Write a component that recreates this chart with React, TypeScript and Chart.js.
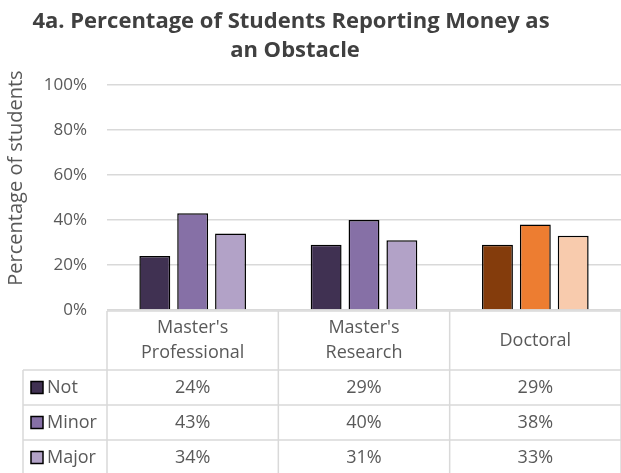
import React, { useEffect, useRef } from "react";
import { Chart, registerables } from "chart.js";

Chart.register(...registerables);

const categories = [["Master's", "Professional"], ["Master's", "Research"], ["Doctoral"]];
const seriesNames = ["Not", "Minor", "Major"];
const notValues = [24, 29, 29];
const minorValues = [43, 40, 38];
const majorValues = [34, 31, 33];
const yTicks = [0, 20, 40, 60, 80, 100];
const titleLines = ["4a. Percentage of Students Reporting Money as", "an Obstacle"];
const yTitle = "Percentage of students";

const purple = ["#403152", "#8670A6", "#B2A2C7"];
const orange = ["#843C0C", "#ED7D31", "#F8CBAD"];
const FONT = "'Open Sans', sans-serif";
const TEXT = "#595959";
const LINE = "#D9D9D9";

export default function App() {
  const ref = useRef<HTMLCanvasElement>(null);
  useEffect(() => {
    document.body.style.margin = "0";
    const series = [notValues, minorValues, majorValues];
    const tablePlugin = {
      id: "tablePlugin",
      afterDraw(chart: any) {
        const ctx = chart.ctx;
        const xs = chart.scales.x;
        const ys = chart.scales.y;
        const left = chart.chartArea.left;
        const colW = (chart.chartArea.right - left) / categories.length;
        const right = left + colW * categories.length + 2;
        const top = ys.getPixelForValue(0) + 1;
        const headerBottom = top + 59;
        const rowH = 35;
        const tableLeft = 23;
        const bottom = headerBottom + rowH * seriesNames.length;
        ctx.save();
        // title
        ctx.fillStyle = "#404040";
        ctx.font = `bold 22px ${FONT}`;
        ctx.textAlign = "center";
        ctx.textBaseline = "middle";
        ctx.fillText(titleLines[0], 291, 22);
        ctx.fillText(titleLines[1], 295, 51);
        // y title
        ctx.save();
        ctx.translate(16, 178);
        ctx.rotate(-Math.PI / 2);
        ctx.fillStyle = TEXT;
        ctx.font = `20px ${FONT}`;
        ctx.fillText(yTitle, 0, 0);
        ctx.restore();
        // grid lines
        ctx.strokeStyle = LINE;
        ctx.lineWidth = 1.5;
        ctx.beginPath();
        ctx.moveTo(left, top); ctx.lineTo(right, top);
        for (let r = 0; r <= seriesNames.length; r++) {
          const y = headerBottom + r * rowH;
          ctx.moveTo(tableLeft, y); ctx.lineTo(right, y);
        }
        ctx.moveTo(tableLeft, headerBottom); ctx.lineTo(tableLeft, bottom);
        for (let c = 0; c <= categories.length; c++) {
          const x = left + c * colW;
          ctx.moveTo(x, top); ctx.lineTo(x, bottom);
        }
        ctx.stroke();
        // header text
        ctx.fillStyle = TEXT;
        ctx.font = `18px ${FONT}`;
        categories.forEach((lines, i) => {
          const cx = xs.getPixelForValue(i);
          const cy = (top + headerBottom) / 2;
          const lh = 25;
          lines.forEach((t, k) => {
            ctx.fillText(t, cx, cy + (k - (lines.length - 1) / 2) * lh);
          });
        });
        // rows
        seriesNames.forEach((name, r) => {
          const cy = headerBottom + r * rowH + rowH / 2;
          ctx.fillStyle = purple[r];
          ctx.fillRect(31, cy - 6, 12, 12);
          ctx.strokeStyle = "#000";
          ctx.lineWidth = 1.5;
          ctx.strokeRect(31, cy - 6, 12, 12);
          ctx.fillStyle = TEXT;
          ctx.textAlign = "left";
          ctx.fillText(name, 47, cy);
          ctx.textAlign = "center";
          series[r].forEach((v, i) => {
            ctx.fillText(v + "%", xs.getPixelForValue(i), cy);
          });
        });
        ctx.restore();
      },
    };
    const chart = new Chart(ref.current!, {
      type: "bar",
      data: {
        labels: categories.map((c) => c.join(" ")),
        datasets: seriesNames.map((name, i) => ({
          label: name,
          data: series[i],
          backgroundColor: [purple[i], purple[i], orange[i]],
          borderColor: "#000",
          borderWidth: 1.5,
          categoryPercentage: 0.663,
          barPercentage: 0.816,
        })),
      },
      options: {
        responsive: false,
        animation: false,
        layout: { padding: { top: 85, bottom: 163, left: 0, right: 0 } },
        plugins: { legend: { display: false }, title: { display: false }, tooltip: { enabled: false } },
        scales: {
          x: {
            ticks: { display: false },
            grid: { display: false },
            border: { display: false },
            afterFit: (s: any) => { s.height = 0; },
          },
          y: {
            min: 0,
            max: 100,
            afterBuildTicks: (s: any) => { s.ticks = yTicks.map((v) => ({ value: v })); },
            ticks: {
              callback: (v: any) => v + "%",
              color: TEXT,
              font: { family: FONT, size: 17 },
              padding: 20,
            },
            grid: { color: LINE, lineWidth: 1.5, drawTicks: false },
            border: { display: false },
            afterFit: (s: any) => { s.width = 107; },
          },
        },
      },
      plugins: [tablePlugin],
    });
    return () => chart.destroy();
  }, []);
  return (
    <div style={{ position: "absolute", left: 0, top: 0, width: 621, height: 473 }}>
      <canvas ref={ref} width={621} height={473} />
    </div>
  );
}
